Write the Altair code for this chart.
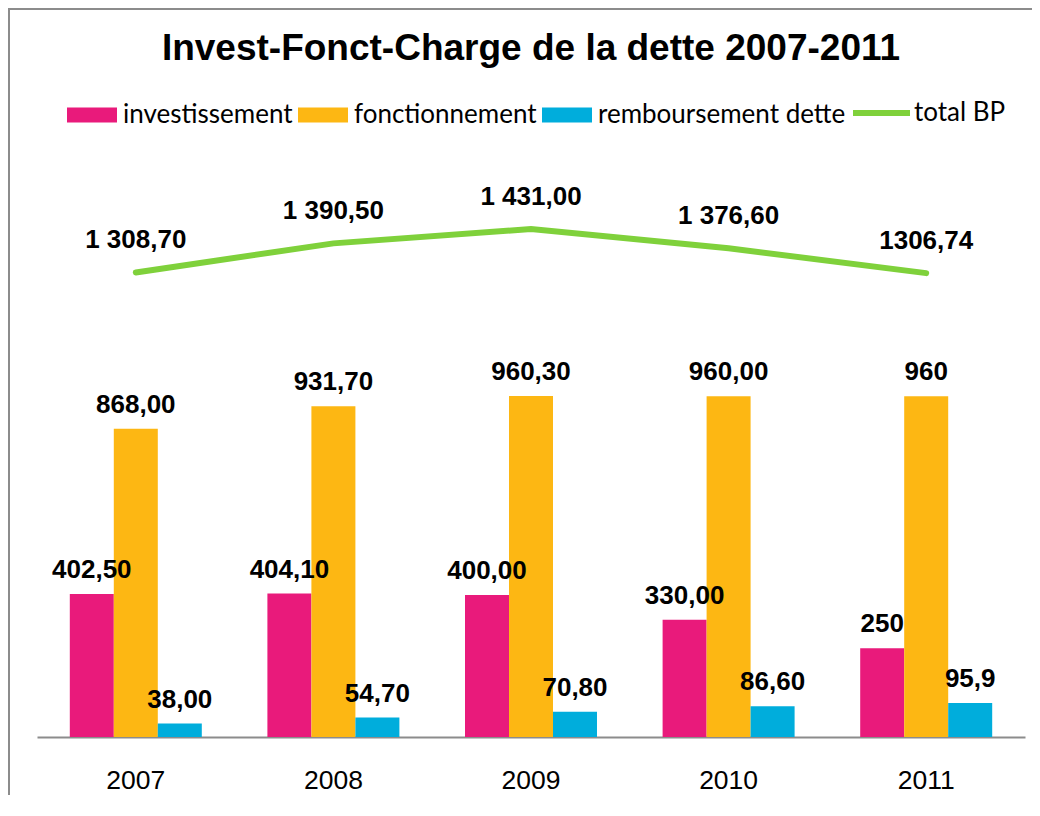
import altair as alt
import pandas as pd

years = ["2007", "2008", "2009", "2010", "2011"]
investissement = [402.5, 404.1, 400.0, 330.0, 250.0]
fonctionnement = [868.0, 931.7, 960.3, 960.0, 960.0]
remboursement = [38.0, 54.7, 70.8, 86.6, 95.9]
total_bp = [1308.7, 1390.5, 1431.0, 1376.6, 1306.74]

lab_inv = ["402,50", "404,10", "400,00", "330,00", "250"]
lab_fonct = ["868,00", "931,70", "960,30", "960,00", "960"]
lab_remb = ["38,00", "54,70", "70,80", "86,60", "95,9"]
lab_total = ["1 308,70", "1 390,50", "1 431,00", "1 376,60", "1306,74"]

series = ["investissement", "fonctionnement", "remboursement dette"]
colors = ["#E91A7B", "#FDB713", "#00ADDC"]
line_name = "total BP"
line_color = "#7FD13B"

rows = []
for name, vals, labs in zip(series, [investissement, fonctionnement, remboursement],
                            [lab_inv, lab_fonct, lab_remb]):
    for yr, v, lb in zip(years, vals, labs):
        rows.append({"annee": yr, "serie": name, "valeur": v, "label": lb})
bars_df = pd.DataFrame(rows)
line_df = pd.DataFrame({"annee": years, "serie": line_name, "valeur": total_bp, "label": lab_total})
frame_df = pd.DataFrame({"k": [0]})

FONT = "Liberation Sans"

x_enc = alt.X("annee:N", sort=years,
              scale=alt.Scale(paddingInner=0.332, paddingOuter=0.166),
              axis=alt.Axis(title=None, labelAngle=0, ticks=False, domainColor="#8c8c8c",
                            domainWidth=2, labelFont=FONT, labelFontSize=26.5,
                            labelColor="black", labelPadding=30))
y_enc = alt.Y("valeur:Q", scale=alt.Scale(domain=[0, 1600], nice=False, zero=True), axis=None)
xoff = alt.XOffset("serie:N", sort=series, scale=alt.Scale(paddingInner=0, paddingOuter=0))

bars = alt.Chart(bars_df).mark_bar().encode(
    x=x_enc, xOffset=xoff, y=y_enc,
    color=alt.Color("serie:N", scale=alt.Scale(domain=series, range=colors),
                    legend=alt.Legend(title=None, orient="none", legendX=30, legendY=-79,
                                      direction="horizontal",
                                      symbolType="M-1,-0.3H1V0.3H-1Z", symbolSize=2500,
                                      symbolStrokeWidth=0, symbolOpacity=1,
                                      labelFont="Lato", labelFontSize=26, labelColor="black",
                                      labelOffset=6, columnPadding=5, labelLimit=400)),
)

bar_text = alt.Chart(bars_df).mark_text(
    dy=-16, baseline="alphabetic", font=FONT, fontWeight="bold", fontSize=26, color="black"
).encode(x=x_enc, xOffset=xoff, y=y_enc, text="label:N")

line = alt.Chart(line_df).mark_line(strokeWidth=6, strokeCap="round").encode(
    x=x_enc, y=y_enc,
    stroke=alt.Stroke("serie:N", scale=alt.Scale(domain=[line_name], range=[line_color]),
                      legend=alt.Legend(title=None, orient="none", legendX=813, legendY=-87.5,
                                        symbolType="stroke", symbolSize=3249,
                                        symbolStrokeWidth=6,
                                        labelFont="Lato", labelFontSize=26, labelColor="black",
                                        labelOffset=1, labelLimit=300)),
)

line_text = alt.Chart(line_df).mark_text(
    dy=-24, baseline="alphabetic", font=FONT, fontWeight="bold", fontSize=26, color="black"
).encode(x=x_enc, y=y_enc, text="label:N")

frame = alt.Chart(frame_df).mark_rect(fill=None, filled=False, stroke="#8c8c8c",
                                      strokeWidth=2).encode(
    x=alt.value(-28), x2=alt.value(1100), y=alt.value(-160), y2=alt.value(700))

chart = alt.layer(bars, bar_text, line, line_text, frame).properties(
    width=988, height=568,
    padding={"left": 29, "top": 161, "right": 7, "bottom": 58},
    autosize=alt.AutoSizeParams(type="none"),
    title=alt.TitleParams("Invest-Fonct-Charge de la dette 2007-2011", font=FONT,
                          fontSize=37, fontWeight="bold", color="black", anchor="middle",
                          offset=-60),
).configure_view(stroke=None)

chart.save("out.html", embed_options={"renderer": "svg", "actions": False})
